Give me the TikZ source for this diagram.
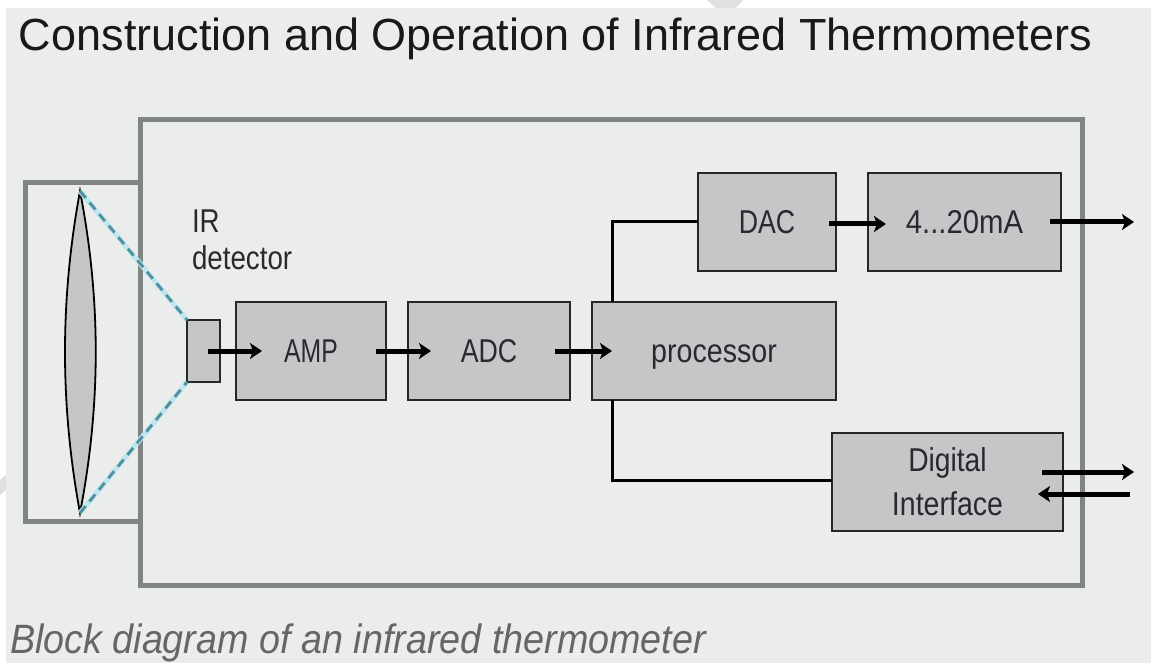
\documentclass[tikz,border=0pt]{standalone}
\usepackage{fontspec}
\setmainfont{Liberation Sans}
\usetikzlibrary{arrows.meta}
\definecolor{bgc}{HTML}{EBEDED}
\definecolor{fr}{HTML}{808484}
\definecolor{boxc}{HTML}{C4C6C8}
\definecolor{txt}{HTML}{2A2A2E}
\definecolor{beamc}{HTML}{4F8F9E}
\definecolor{haloc}{HTML}{BFE6EE}
\tikzset{
 x=1pt,y=-1pt,
 frame/.style={draw=fr,line width=5pt,line cap=butt},
 block/.style={draw=black!85,line width=1.8pt,fill=boxc,inner sep=0pt,outer sep=0pt,text=txt,align=center,font=\fontsize{33}{44}\selectfont,anchor=north west},
 oneline/.style={block,text height=23pt,text depth=0pt},
 flow/.style={line width=5pt,black,-{Stealth[length=12pt,width=16pt,inset=3pt]}},
 wire/.style={line width=3pt,black},
 beam/.style={draw=beamc,line width=2.8pt,dash pattern=on 9pt off 6pt},
 halo/.style={draw=haloc,line width=5pt},
}
\newcommand{\cond}[2][0.82]{\scalebox{#1}[1]{#2}}
\begin{document}
\begin{tikzpicture}
\useasboundingbox (0,0) rectangle (1151,663);
\fill[white] (0,0) rectangle (1151,663);
\fill[bgc] (6,8) rectangle (1151,663);
\fill[bgc!95!black] (707,0) -- (743,0) -- (736,8) -- (716,8) -- cycle;
\fill[bgc!95!black] (6,475) -- (0,480) -- (0,495) -- (6,490) -- cycle;
% title and caption
\node[anchor=base west,inner sep=0pt,outer sep=0pt,font=\fontsize{45}{50}\selectfont,text=black!90] (title) at (19,50.5) {Construction and Operation of Infrared Thermometers};
\node[anchor=base west,inner sep=0pt,outer sep=0pt,font=\fontsize{41}{46}\itshape\selectfont,text=black!60] (cap) at (10,653.5) {\scalebox{0.92}[1]{Block diagram of an infrared thermometer}};
% housing
\draw[frame] (139,183) -- (25.5,183) -- (25.5,521) -- (139,521);
\draw[frame] (140,120) rectangle (1082,585);
% lens
\coordinate (lt) at (80,191);
\coordinate (lb) at (80,513);
\draw[black,line width=1.8pt,fill=boxc] (lt) .. controls (60,300) and (60,404) .. (lb) .. controls (101,404) and (101,300) .. (lt) -- cycle;
% blocks
\node[block,minimum width=33pt,minimum height=62pt] (det) at (187,320) {};
\node[oneline,minimum width=150pt,minimum height=98pt] (amp) at (236,302) {\cond[0.75]{AMP}};
\node[oneline,minimum width=162pt,minimum height=98pt] (adc) at (408,302) {\cond[0.81]{ADC}};
\node[oneline,minimum width=244pt,minimum height=98pt] (proc) at (592,302) {\cond[0.867]{processor}};
\node[oneline,minimum width=138pt,minimum height=98pt] (dac) at (698,173) {\cond[0.81]{DAC}};
\node[oneline,minimum width=193pt,minimum height=98pt] (ma) at (868,173) {\cond[0.887]{4...20mA}};
\node[block,minimum width=231pt,minimum height=98pt] (dig) at (832,433) {\cond[0.855]{Digital}\\\cond[0.865]{Interface}};
\node[anchor=north west,inner sep=0pt,outer sep=0pt,align=left,text=txt,font=\fontsize{33}{37}\selectfont] (irl) at (192,210) {\cond[0.84]{IR}\\\cond[0.84]{detector}};
% beams
\draw[halo] (lt) -- (det.north west);
\draw[halo] (lb) -- (det.south west);
\draw[beam] (lt) -- (det.north west);
\draw[beam] (lb) -- (det.south west);
% wires
\draw[wire] ([xshift=20pt]proc.north west) |- (dac.west);
\draw[wire] ([xshift=20pt]proc.south west) |- ([yshift=2pt]dig.west);
% arrows
\coordinate (o1) at ([xshift=73pt]ma.east);
\coordinate (o2) at ([xshift=71pt,yshift=10pt]dig.east);
\coordinate (i2) at ([xshift=67pt,yshift=-12pt]dig.east);
\draw[flow] ([xshift=-12pt]det.east) -- ([xshift=26pt]amp.west);
\draw[flow] ([xshift=-10pt]amp.east) -- ([xshift=23pt]adc.west);
\draw[flow] ([xshift=-15pt]adc.east) -- ([xshift=20pt]proc.west);
\draw[flow] ([xshift=-7pt,yshift=-2pt]dac.east) -- ([xshift=18pt,yshift=-2pt]ma.west);
\draw[flow] ([xshift=-11pt]ma.east) -- (o1);
\draw[flow] ([xshift=-21pt,yshift=10pt]dig.east) -- (o2);
\draw[flow] (i2) -- ([xshift=-25pt,yshift=-12pt]dig.east);
\end{tikzpicture}
\end{document}
